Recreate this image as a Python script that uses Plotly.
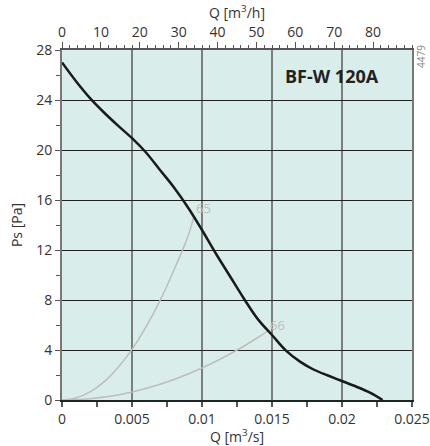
import plotly.graph_objects as go

# Fan curve (Q in m3/s, Ps in Pa)
fan_q = [0, 0.001, 0.002, 0.003, 0.004, 0.005, 0.006, 0.007, 0.008, 0.009, 0.010, 0.011, 0.012, 0.013, 0.014, 0.015, 0.016, 0.017, 0.018, 0.019, 0.020, 0.021, 0.022, 0.0229]
fan_ps = [27.0, 25.5, 24.15, 23.0, 21.95, 20.95, 19.8, 18.4, 17.0, 15.4, 13.6, 11.7, 9.9, 8.1, 6.45, 5.2, 3.95, 3.07, 2.42, 1.96, 1.52, 1.08, 0.59, 0.0]

# System curve 65
sys65_q = [0, 0.001, 0.002, 0.003, 0.004, 0.005, 0.006, 0.007, 0.008, 0.009, 0.0094]
sys65_ps = [0, 0.16, 0.65, 1.45, 2.6, 4.05, 5.85, 7.95, 10.4, 13.1, 14.6]

# System curve 66
sys66_q = [0, 0.002, 0.004, 0.006, 0.008, 0.01, 0.012, 0.014, 0.0148]
sys66_ps = [0, 0.1, 0.4, 0.92, 1.64, 2.56, 3.68, 5.0, 5.6]

x_ticks = [0, 0.005, 0.01, 0.015, 0.02, 0.025]
x_ticklabels = ["0", "0.005", "0.01", "0.015", "0.02", "0.025"]
y_ticks = [0, 4, 8, 12, 16, 20, 24, 28]
top_ticks = [0, 10, 20, 30, 40, 50, 60, 70, 80]

FONT = "Open Sans"
fig = go.Figure()

fig.add_trace(go.Scatter(x=sys65_q, y=sys65_ps, mode="lines", line=dict(color="#bdbdbd", width=1.5, shape="spline"), hoverinfo="skip", showlegend=False))
fig.add_trace(go.Scatter(x=sys66_q, y=sys66_ps, mode="lines", line=dict(color="#bdbdbd", width=1.5, shape="spline"), hoverinfo="skip", showlegend=False))
fig.add_trace(go.Scatter(x=fan_q, y=fan_ps, mode="lines", line=dict(color="#1a1a1a", width=2.5, shape="spline", smoothing=1.0), showlegend=False))
# invisible trace to anchor the top axis
fig.add_trace(go.Scatter(x=[0, 90], y=[0, 0], xaxis="x2", mode="lines", line=dict(width=0), opacity=0, hoverinfo="skip", showlegend=False))

fig.add_annotation(x=0.00941, y=15.36, text="65", showarrow=False, xanchor="left", yanchor="middle",
                   font=dict(family=FONT, size=13, color="#c0c0c0"))
fig.add_annotation(x=0.0147, y=6.04, text="66", showarrow=False, xanchor="left", yanchor="middle",
                   font=dict(family=FONT, size=13, color="#c0c0c0"))
fig.add_annotation(xref="paper", yref="paper", x=(332 - 62) / 350, y=(400 - 76) / 350, text="<b>BF-W 120A</b>",
                   showarrow=False, xanchor="center", yanchor="middle",
                   font=dict(family=FONT, size=18, color="#222222"))
fig.add_annotation(xref="paper", yref="paper", x=(421 - 62) / 350, y=(400 - 57) / 350, text="4479",
                   showarrow=False, textangle=-90, xanchor="center", yanchor="middle",
                   font=dict(family=FONT, size=10, color="#888888"))

fig.update_layout(
    width=430, height=446,
    margin=dict(l=62, r=18, t=50, b=46, autoexpand=False),
    paper_bgcolor="white",
    plot_bgcolor="#d9eeea",
    font=dict(family=FONT, size=14, color="#333333"),
    xaxis=dict(
        range=[0, 0.025], tickvals=x_ticks, ticktext=x_ticklabels, automargin=False,
        showgrid=True, gridcolor="#7a7f7e", gridwidth=2,
        showline=True, linecolor="#222222", linewidth=1.5,
        ticks="outside", ticklen=5, tickcolor="#555555", tickwidth=1.5,
        minor=dict(dtick=0.0025, tick0=0, ticks="outside", ticklen=5, tickcolor="#555555", showgrid=False),
        zeroline=False,
        title=dict(text="Q [m<sup>3</sup>/s]", standoff=1, font=dict(size=14)),
        tickfont=dict(size=14),
    ),
    xaxis2=dict(
        overlaying="x", side="top", range=[0, 90], tickvals=top_ticks, automargin=False,
        showgrid=False, showline=True, linecolor="#555555", linewidth=1.5,
        ticks="outside", ticklen=6, tickcolor="#555555", tickwidth=1,
        minor=dict(dtick=2, tick0=0, ticks="outside", ticklen=3, tickcolor="#555555"),
        zeroline=False,
        title=dict(text="Q [m<sup>3</sup>/h]", standoff=0, font=dict(size=14)),
        tickfont=dict(size=14),
    ),
    yaxis=dict(
        range=[0, 28], tickvals=y_ticks, automargin=False,
        showgrid=True, gridcolor="#222222", gridwidth=1,
        showline=True, linecolor="#777777", linewidth=2, mirror=True,
        ticks="outside", ticklen=5, tickcolor="#555555",
        minor=dict(dtick=2, tick0=0, ticks="outside", ticklen=4, tickcolor="#555555"),
        zeroline=False,
        title=dict(text="Ps [Pa]", standoff=10, font=dict(size=14)),
        tickfont=dict(size=14),
    ),
)

fig.write_html("out.html", config={"displayModeBar": False},
               post_script="document.body.style.margin='0';document.body.style.overflow='hidden';")
